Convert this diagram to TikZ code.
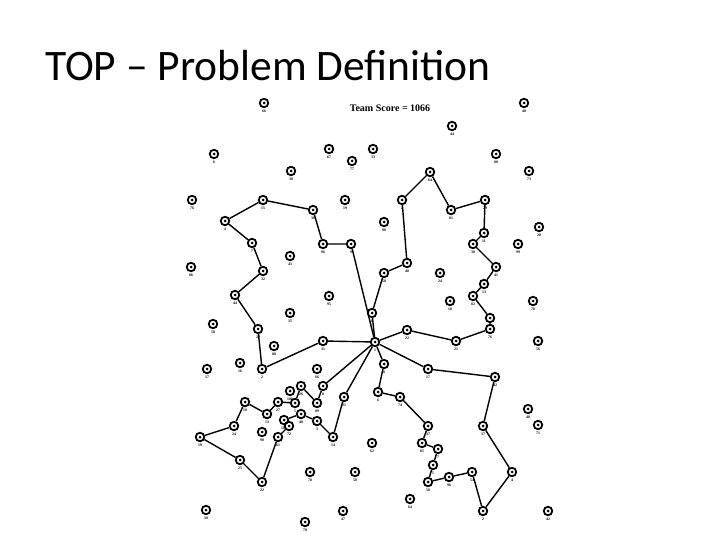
\documentclass[tikz,border=0pt]{standalone}
\usepackage{fontspec}
\setmainfont{Carlito}
\newfontfamily\tinyserif{Liberation Serif}
\tikzset{
  stop/.style={circle, draw=black, fill=white, line width=1.8pt, minimum size=8.5pt, inner sep=0pt,
    path picture={\fill[black] (path picture bounding box.center) circle (1.5pt);}},
  lbl/.style={font=\tinyserif\bfseries\fontsize{3.8}{4}\selectfont, inner sep=0pt},
  route/.style={line width=1.4pt, black},
}
\begin{document}
\begin{tikzpicture}[x=1pt,y=-1pt]
\useasboundingbox (0,0) rectangle (720,540);
\node[anchor=base west, font=\fontsize{43.5}{48}\selectfont, inner sep=0pt] (title) at (45,81) {TOP – Problem Definition};
\node[font=\tinyserif\bfseries\fontsize{10}{11}\selectfont, inner sep=0pt] (score) at (390,108) {Team Score = 1066};
% all customer nodes: name/x/y/label
\foreach \n/\x/\y/\l in {
  d/375/342/1,
  a1/372/313/8, a2/384/273/50, a3/407/263/48, a4/402/200/2, a5/430/172/64, a6/451/210/81,
  a7/485/200/29, a8/484/233/11, a9/473/244/30, a10/496/267/41, a11/484/284/13, a12/473/296/82,
  a13/490/318/100, a14/490/329/76, a15/456/341/21, a16/407/330/22,
  b1/323/341/31, b2/262/369/2, b3/258/329/27, b4/235/295/44, b5/263/271/32, b6/252/243/7,
  b7/225/221/4, b8/263/200/15, b9/313/210/36, b10/323/244/96, b11/351/244/9,
  c1/344/397/21, c2/333/437/14, c3/317/421/3, c4/301/414/40, c5/284/420/104, c6/289/426/72,
  c7/278/437/61, c8/262/482/22, c9/240/460/25, c10/200/437/19, c11/234/426/24, c12/245/402/10,
  c13/267/414/13, c14/278/402/27, c15/295/403/5, c16/301/386/26, c17/317/403/89, c18/323/386/8,
  e1/384/364/8, e2/378/392/6, e3/400/397/74, e4/428/426/37, e5/422/443/85, e6/438/449/7,
  e7/433/465/5, e8/428/482/58, e9/449/477/96, e10/472/472/54, e11/483/511/2, e12/512/472/4,
  e13/483/426/37, e14/495/377/42, e15/428/369/17,
  i1/264/103/66, i2/524/103/48, i3/452/126/44, i4/214/154/6, i5/329/149/67, i6/352/161/77,
  i7/373/149/33, i8/291/171/30, i9/496/154/80, i10/529/171/73, i11/192/200/76, i12/345/200/19,
  i13/384/222/90, i14/539/227/20, i15/518/244/99, i16/290/256/43, i17/191/267/86, i18/440/273/24,
  i19/329/296/95, i20/290/313/35, i21/450/301/18, i22/533/301/78, i23/213/324/58, i24/538/341/56,
  i25/274/346/88, i26/240/363/16, i27/207/369/17, i28/317/369/66, i29/290/391/100, i30/262/432/90,
  i31/528/409/48, i32/538/425/71, i33/372/443/62, i34/355/472/50, i35/310/472/78, i36/410/499/64,
  i37/343/511/47, i38/206/510/38, i39/305/522/70, i40/548/511/42}
{
  \node[stop] (\n) at (\x,\y) {};
  \node[lbl] (\n l) at (\x,\y+8) {\l};
}
% routes
\draw[route] (d) -- (a1) -- (a2) -- (a3) -- (a4) -- (a5) -- (a6) -- (a7) -- (a8) -- (a9) -- (a10)
  -- (a11) -- (a12) -- (a13) -- (a14) -- (a15) -- (a16) -- (d);
\draw[route] (d) -- (b1) -- (b2) -- (b3) -- (b4) -- (b5) -- (b6) -- (b7) -- (b8) -- (b9) -- (b10)
  -- (b11) -- (d);
\draw[route] (d) -- (c1) -- (c2) -- (c3) -- (c4) -- (c5) -- (c6) -- (c7) -- (c8) -- (c9) -- (c10)
  -- (c11) -- (c12) -- (c13) -- (c14) -- (c15) -- (c16) -- (c17) -- (c18) -- (d);
\draw[route] (d) -- (e1) -- (e2) -- (e3) -- (e4) -- (e5) -- (e6) -- (e7) -- (e8) -- (e9) -- (e10)
  -- (e11) -- (e12) -- (e13) -- (e14) -- (e15) -- (d);
\end{tikzpicture}
\end{document}
